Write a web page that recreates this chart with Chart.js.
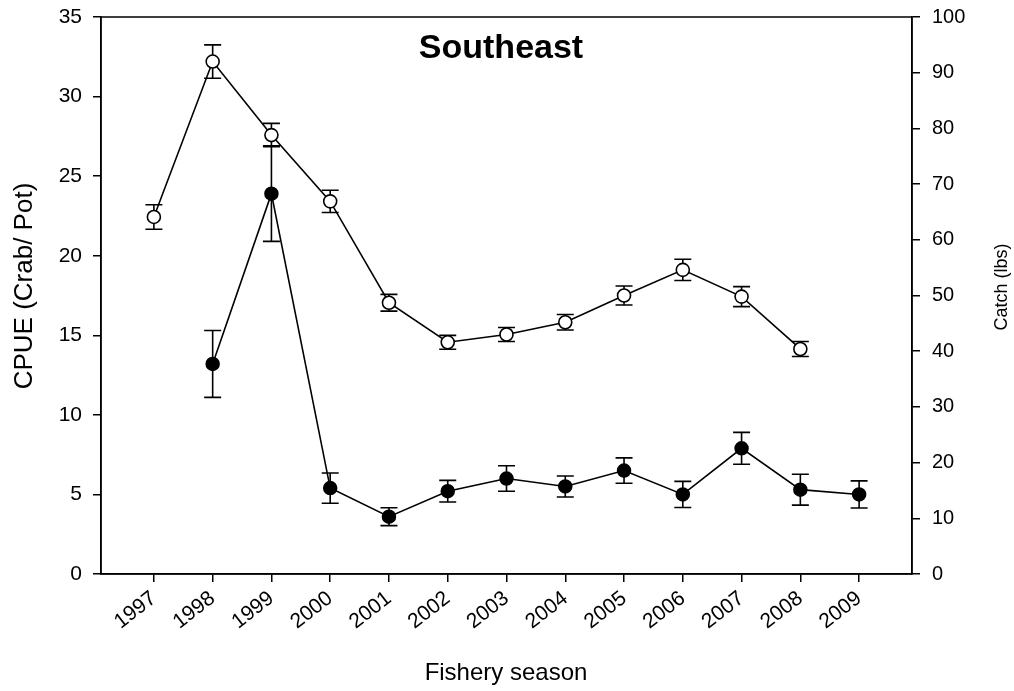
<!DOCTYPE html>
<html>
<head>
<meta charset="utf-8">
<script src="https://cdn.jsdelivr.net/npm/chart.js@4.4.1/dist/chart.umd.min.js"></script>
<style>
  body { margin: 0; background: #fff; }
  canvas { display: block; }
</style>
</head>
<body>
<canvas id="seChart" width="1014" height="691"></canvas>
<script>
const years = [1997, 1998, 1999, 2000, 2001, 2002, 2003, 2004, 2005, 2006, 2007, 2008, 2009];
// CPUE (crab/pot), left axis, filled circles
const cpue    = [null, 13.2, 23.9, 5.4, 3.6, 5.2, 6.0, 5.5, 6.5, 5.0, 7.9, 5.3, 5.0];
const cpueErr = [null, 2.1, 3.0, 0.95, 0.56, 0.68, 0.8, 0.66, 0.8, 0.82, 1.0, 0.97, 0.85];
// Catch (lbs), right axis, open circles
const catchLbs = [64.1, 92.0, 78.8, 66.9, 48.7, 41.6, 43.0, 45.2, 50.0, 54.6, 49.8, 40.4, null];
const catchErr = [2.2, 3.0, 2.1, 2.0, 1.5, 1.25, 1.25, 1.4, 1.7, 1.9, 1.8, 1.35, null];
const leftTicks = [0, 5, 10, 15, 20, 25, 30, 35];
const rightTicks = [0, 10, 20, 30, 40, 50, 60, 70, 80, 90, 100];

const FONT = "'Liberation Sans', Arial, sans-serif";

function toPoints(vals) {
    return years.map((y, i) => ({ x: y, y: vals[i] })).filter(p => p.y !== null);
}

// error bars, drawn under the markers
const errorBars = {
    id: 'errorBars',
    beforeDatasetsDraw(chart) {
        const ctx = chart.ctx;
        const xs = chart.scales.x;
        const sets = [
            { vals: cpue, errs: cpueErr, scale: chart.scales.y },
            { vals: catchLbs, errs: catchErr, scale: chart.scales.y1 }
        ];
        ctx.save();
        ctx.strokeStyle = '#000';
        ctx.lineWidth = 1.6;
        sets.forEach(s => {
            years.forEach((yr, i) => {
                if (s.vals[i] === null) return;
                const px = xs.getPixelForValue(yr);
                const top = s.scale.getPixelForValue(s.vals[i] + s.errs[i]);
                const bot = s.scale.getPixelForValue(s.vals[i] - s.errs[i]);
                ctx.beginPath();
                ctx.moveTo(px, top); ctx.lineTo(px, bot);
                ctx.moveTo(px - 8.5, top); ctx.lineTo(px + 8.5, top);
                ctx.moveTo(px - 8.5, bot); ctx.lineTo(px + 8.5, bot);
                ctx.stroke();
            });
        });
        ctx.restore();
    }
};

// frame + titles
const decorations = {
    id: 'decorations',
    afterDraw(chart) {
        const ctx = chart.ctx;
        const a = chart.chartArea;
        ctx.save();
        ctx.strokeStyle = '#000';
        ctx.lineWidth = 1.5;
        ctx.strokeRect(a.left, a.top, a.right - a.left, a.bottom - a.top);

        ctx.fillStyle = '#000';
        ctx.textAlign = 'center';
        ctx.textBaseline = 'alphabetic';
        ctx.font = 'bold 34px ' + FONT;
        ctx.fillText('Southeast', 501, 58);

        ctx.textBaseline = 'middle';
        ctx.font = '24px ' + FONT;
        ctx.fillText('Fishery season', 506, 673);

        ctx.save();
        ctx.translate(25, 286);
        ctx.rotate(-Math.PI / 2);
        ctx.font = '26px ' + FONT;
        ctx.fillText('CPUE (Crab/ Pot)', 0, 0);
        ctx.restore();

        ctx.save();
        ctx.translate(1002, 287);
        ctx.rotate(-Math.PI / 2);
        ctx.font = '18px ' + FONT;
        ctx.fillText('Catch (lbs)', 0, 0);
        ctx.restore();
        ctx.restore();
    }
};

function noPad(s) {
    s.paddingTop = 0;
    s.paddingBottom = 0;
    s.paddingLeft = 0;
    s.paddingRight = 0;
}

document.addEventListener('DOMContentLoaded', function () {
    const ctx = document.getElementById('seChart').getContext('2d');

    const axisGrid = {
        display: true,
        drawOnChartArea: false,
        drawTicks: true,
        tickLength: 8,
        color: '#000',
        lineWidth: 1.5
    };

    new Chart(ctx, {
        type: 'line',
        data: {
            datasets: [{
                label: 'CPUE',
                data: toPoints(cpue),
                yAxisID: 'y',
                borderColor: '#000',
                borderWidth: 1.6,
                backgroundColor: '#000',
                pointBackgroundColor: '#000',
                pointBorderColor: '#000',
                pointBorderWidth: 1.5,
                pointRadius: 6.5,
                tension: 0
            }, {
                label: 'Catch',
                data: toPoints(catchLbs),
                yAxisID: 'y1',
                borderColor: '#000',
                borderWidth: 1.6,
                backgroundColor: '#fff',
                pointBackgroundColor: '#fff',
                pointBorderColor: '#000',
                pointBorderWidth: 1.6,
                pointRadius: 6.5,
                tension: 0
            }]
        },
        options: {
            responsive: false,
            animation: false,
            layout: { padding: { top: 17, left: 0, right: 0, bottom: 0 } },
            plugins: {
                legend: { display: false },
                tooltip: { enabled: false }
            },
            scales: {
                x: {
                    type: 'linear',
                    min: 1996.1,
                    max: 2009.9,
                    grid: axisGrid,
                    border: { display: true, color: '#000', width: 1.5 },
                    afterBuildTicks: s => { s.ticks = years.map(v => ({ value: v })); },
                    afterFit: s => { s.height = 117; noPad(s); },
                    ticks: {
                        autoSkip: false,
                        minRotation: 38,
                        maxRotation: 38,
                        padding: 4,
                        color: '#000',
                        font: { family: FONT, size: 21 },
                        callback: v => String(v)
                    }
                },
                y: {
                    position: 'left',
                    min: 0,
                    max: 35,
                    grid: axisGrid,
                    border: { display: true, color: '#000', width: 1.5 },
                    afterBuildTicks: s => { s.ticks = leftTicks.map(v => ({ value: v })); },
                    afterFit: s => { s.width = 101; noPad(s); },
                    ticks: {
                        padding: 11,
                        color: '#000',
                        font: { family: FONT, size: 21 }
                    }
                },
                y1: {
                    position: 'right',
                    min: 0,
                    max: 100,
                    grid: axisGrid,
                    border: { display: true, color: '#000', width: 1.5 },
                    afterBuildTicks: s => { s.ticks = rightTicks.map(v => ({ value: v })); },
                    afterFit: s => { s.width = 102; noPad(s); },
                    ticks: {
                        padding: 12,
                        color: '#000',
                        font: { family: FONT, size: 20 }
                    }
                }
            }
        },
        plugins: [errorBars, decorations]
    });
});
</script>
</body>
</html>
